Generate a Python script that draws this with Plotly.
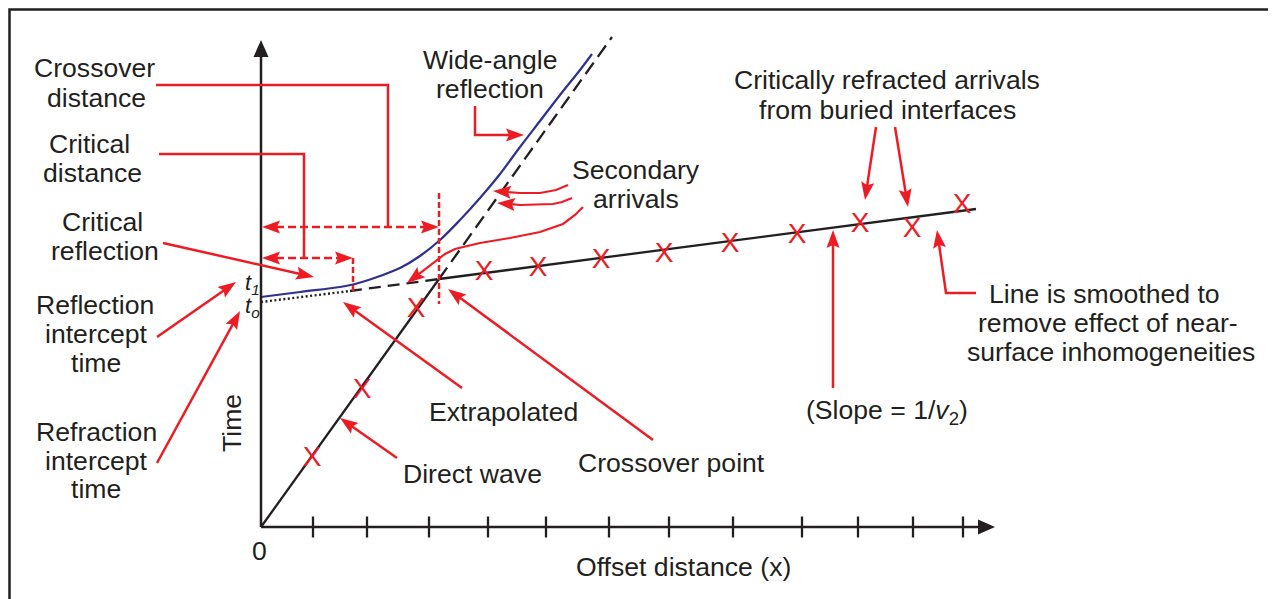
import math
import plotly.graph_objects as go

PAGE_OFF = 8               # the page body margin that the browser puts around the figure
W, H = 1276 - PAGE_OFF, 599 - PAGE_OFF
OX, OY = 261, 527          # page pixel where the time/offset axes meet

RED = "#ed1c24"
BLACK = "#231f20"
BLUE = "#2e3192"
FONT = "Liberation Sans, Arial, Helvetica, sans-serif"
FS = 26.6

# ---------------- data (offset units, time units) ----------------
direct_x = [0, 178, 351]                 # direct wave: solid to crossover, then dashed
direct_t = [0, 248, 490]
refr_x = [0, 89, 178, 715]               # refraction: dotted, extrapolated (dashed), observed
refr_t = [225, 236, 248, 318]
refl_x = [0, 39, 79, 94, 119, 139, 159, 179, 199, 219, 239, 259, 279, 299, 319, 331]
refl_t = [230, 235, 240, 243, 251, 259, 271, 287, 307, 329, 353, 380, 406, 432, 457, 473]
direct_pick_x = [51, 101, 155]
direct_pick_t = [68, 136, 217]
refr_pick_x = [223, 277, 340, 403, 469, 536, 599, 651, 701]
refr_pick_t = [254, 258, 266, 272, 282, 291, 302, 297, 321]
tick_x = [52, 106, 168, 227, 285, 348, 408, 472, 541, 597, 652, 702]


def D(px, py):
    """page pixel -> chart units"""
    return (px - OX, OY - py)


fig = go.Figure()

line_w = 2.3
fig.add_trace(go.Scatter(x=direct_x[:2], y=direct_t[:2], mode="lines",
                         line=dict(color=BLACK, width=line_w)))
fig.add_trace(go.Scatter(x=direct_x[1:], y=direct_t[1:], mode="lines",
                         line=dict(color=BLACK, width=line_w, dash="14px,7px")))
fig.add_trace(go.Scatter(x=refr_x[:2], y=refr_t[:2], mode="lines",
                         line=dict(color=BLACK, width=2.4, dash="2px,2.5px")))
fig.add_trace(go.Scatter(x=refr_x[1:3], y=refr_t[1:3], mode="lines",
                         line=dict(color=BLACK, width=line_w, dash="12px,7px")))
fig.add_trace(go.Scatter(x=refr_x[2:], y=refr_t[2:], mode="lines",
                         line=dict(color=BLACK, width=line_w)))
fig.add_trace(go.Scatter(x=refl_x, y=refl_t, mode="lines", line_shape="spline",
                         line=dict(color=BLUE, width=2.2)))
fig.add_trace(go.Scatter(x=tick_x, y=[0] * len(tick_x), mode="markers",
                         marker=dict(symbol="line-ns", size=15,
                                     line=dict(width=2.3, color=BLACK))))
fig.add_trace(go.Scatter(x=direct_pick_x + refr_pick_x,
                         y=direct_pick_t + refr_pick_t, mode="text",
                         text=["X"] * (len(direct_pick_x) + len(refr_pick_x)),
                         textposition="middle center",
                         textfont=dict(family=FONT, size=28, color=RED)))

shapes = []


def unit(a, b):
    dx, dy = a[0] - b[0], a[1] - b[1]
    L = math.hypot(dx, dy)
    return dx / L, dy / L


def head(tip, prev, hl, hw, notch):
    ux, uy = unit(tip, prev)
    bx, by = tip[0] - ux * hl, tip[1] - uy * hl
    nx, ny = -uy, ux
    pts = [tip, (bx + nx * hw, by + ny * hw), (bx + ux * notch, by + uy * notch),
           (bx - nx * hw, by - ny * hw)]
    return "M " + " L ".join("%.2f,%.2f" % D(*p) for p in pts) + " Z"


def polyline(pts, color=RED, width=2.5, dash=None, head_end=False, head_start=False,
             hl=18, hw=6.5, notch=3):
    pts = [tuple(p) for p in pts]
    heads = []
    if head_end:
        heads.append(head(pts[-1], pts[-2], hl, hw, notch))
        ux, uy = unit(pts[-1], pts[-2])
        pts[-1] = (pts[-1][0] - ux * (hl - notch - 1), pts[-1][1] - uy * (hl - notch - 1))
    if head_start:
        heads.append(head(pts[0], pts[1], hl, hw, notch))
        ux, uy = unit(pts[0], pts[1])
        pts[0] = (pts[0][0] - ux * (hl - notch - 1), pts[0][1] - uy * (hl - notch - 1))
    path = "M " + " L ".join("%.2f,%.2f" % D(*p) for p in pts)
    ln = dict(color=color, width=width)
    if dash:
        ln["dash"] = dash
    shapes.append(dict(type="path", xref="x", yref="y", path=path, line=ln, layer="above"))
    for h in heads:
        shapes.append(dict(type="path", xref="x", yref="y", path=h, fillcolor=color,
                           line=dict(width=0), layer="above"))


# axes
polyline([(OX, OY), (OX, 40)], color=BLACK, width=2.5, head_end=True, hl=17, hw=7.5, notch=0)
polyline([(OX, OY), (995, OY)], color=BLACK, width=2.5, head_end=True, hl=17, hw=7.5, notch=0)

# frame (page pixels -> paper fractions)
shapes.append(dict(type="rect", xref="paper", yref="paper",
                   x0=(9.5 - PAGE_OFF) / W, x1=(1273 - PAGE_OFF) / W,
                   y0=-0.05, y1=1 - (9.5 - PAGE_OFF) / H,
                   line=dict(color=BLACK, width=2.5), layer="below"))

# red leaders and arrows
polyline([(156, 85), (388, 85), (388, 227)])
polyline([(159, 154), (304, 154), (304, 258)])
polyline([(262, 227), (439, 227)], dash="8px,4px", head_end=True, head_start=True)
polyline([(262, 258), (353, 258)], dash="8px,4px", head_end=True, head_start=True)
polyline([(353, 258), (353, 293)], dash="6px,3px")
polyline([(439, 193), (439, 304)], dash="6px,3px")
polyline([(163, 243), (314, 277)], head_end=True)
polyline([(157, 337), (236, 282)], head_end=True)
polyline([(157, 463), (240, 311)], head_end=True)
polyline([(475, 106), (475, 135), (524, 135)], head_end=True)
polyline([(568, 185), (556, 190), (540, 193), (520, 193), (493, 191)], width=2.2,
         head_end=True)
polyline([(572, 198), (562, 202), (553, 204), (520, 205), (497, 203)], width=2.2,
         head_end=True)
polyline([(583, 207), (575, 215), (563, 224), (540, 232), (510, 238), (480, 243),
          (455, 249), (445, 254), (407, 283)], width=2.2, head_end=True)
polyline([(462, 388), (343, 302)], head_end=True)
polyline([(397, 458), (340, 418)], head_end=True)
polyline([(653, 440), (448, 289)], head_end=True)
polyline([(876, 127), (865, 200)], head_end=True)
polyline([(895, 127), (908, 207)], head_end=True)
polyline([(833, 388), (833, 230)], head_end=True)
polyline([(976, 293), (946, 293), (937, 230)], head_end=True)

# text
labels = [
    ("Crossover", 94, 68), ("distance", 96, 98),
    ("Critical", 89, 144), ("distance", 92, 173),
    ("Critical", 102, 222), ("reflection", 105, 251),
    ("Reflection", 95, 305), ("intercept", 96, 334), ("time", 96, 363),
    ("Refraction", 96, 432), ("intercept", 96, 461), ("time", 96, 489),
    ("Wide-angle", 490, 60), ("reflection", 490, 89),
    ("Secondary", 636, 170), ("arrivals", 636, 199),
    ("Critically refracted arrivals", 887, 80), ("from buried interfaces", 887, 110),
    ("Line is smoothed to", 1104, 294), ("remove effect of near-", 1108, 323),
    ("surface inhomogeneities", 1111, 352),
    ("(Slope = 1/<i>v</i><sub>2</sub>)", 887, 412),
    ("Extrapolated", 503, 412),
    ("Crossover point", 671, 463),
    ("Direct wave", 472, 474),
    ("Offset distance (x)", 683, 567),
    ("0", 259, 551),
]
ann = []
for txt, cx, cy in labels:
    x, y = D(cx, cy)
    ann.append(dict(x=x, y=y, xref="x", yref="y", text=txt, showarrow=False,
                    xanchor="center", yanchor="middle",
                    font=dict(family=FONT, size=FS, color=BLACK)))
x, y = D(232, 423)
ann.append(dict(x=x, y=y, xref="x", yref="y", text="Time", showarrow=False, textangle=-90,
                xanchor="center", yanchor="middle", font=dict(family=FONT, size=FS, color=BLACK)))
for txt, cx, cy in [("<i>t</i><sub><i>1</i></sub>", 252, 284),
                    ("<i>t</i><sub><i>o</i></sub>", 252, 307)]:
    x, y = D(cx, cy)
    ann.append(dict(x=x, y=y, xref="x", yref="y", text=txt, showarrow=False,
                    xanchor="center", yanchor="middle",
                    font=dict(family=FONT, size=22, color=BLACK)))

# axis ranges chosen so that one chart unit is one page pixel
fig.update_layout(
    width=W, height=H, autosize=False,
    margin=dict(l=0, r=0, t=0, b=0, pad=0),
    paper_bgcolor="white", plot_bgcolor="white",
    showlegend=False,
    xaxis=dict(range=[PAGE_OFF - OX, PAGE_OFF + W - OX], visible=False, fixedrange=True),
    yaxis=dict(range=[OY - PAGE_OFF - H, OY - PAGE_OFF], visible=False, fixedrange=True),
    shapes=shapes, annotations=ann,
)

fig.write_html("out.html", config={"displayModeBar": False})
